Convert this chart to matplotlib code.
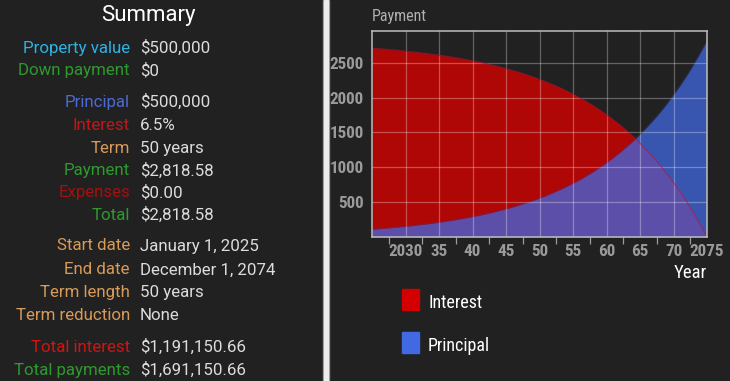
import matplotlib
matplotlib.use("Agg")
import matplotlib.pyplot as plt
from matplotlib.patches import Rectangle
from matplotlib import font_manager

# === 데이터 ===
summary_labels = ["Property value", "Down payment", "Principal", "Interest", "Term",
                  "Payment", "Expenses", "Total", "Start date", "End date",
                  "Term length", "Term reduction", "Total interest", "Total payments"]
summary_values = ["$500,000", "$0", "$500,000", "6.5%", "50 years", "$2,818.58", "$0.00",
                  "$2,818.58", "January 1, 2025", "December 1, 2074", "50 years", "None",
                  "$1,191,150.66", "$1,691,150.66"]
summary_colors = ["#2cb2e6", "#2e9a2e", "#4d6ad2", "#c41616", "#d89a58", "#2e9a2e", "#a41010",
                  "#2e9a2e", "#d89a58", "#d89a58", "#d89a58", "#d89a58", "#d01414", "#2e9a2e"]
summary_rows_y = [48, 71, 102, 125, 148, 171, 193, 215, 246, 270, 293, 315, 347, 370]

years = [2025, 2026, 2027, 2028, 2029, 2030, 2031, 2032, 2033, 2034,
         2035, 2036, 2037, 2038, 2039, 2040, 2041, 2042, 2043, 2044,
         2045, 2046, 2047, 2048, 2049, 2050, 2051, 2052, 2053, 2054,
         2055, 2056, 2057, 2058, 2059, 2060, 2061, 2062, 2063, 2064,
         2065, 2066, 2067, 2068, 2069, 2070, 2071, 2072, 2073, 2074, 2074.92]
interest = [2708, 2701, 2693, 2685, 2676, 2666, 2656, 2645, 2633, 2621,
            2608, 2594, 2579, 2563, 2545, 2527, 2508, 2487, 2464, 2441,
            2415, 2388, 2360, 2329, 2296, 2261, 2224, 2184, 2142, 2096,
            2048, 1996, 1941, 1882, 1820, 1753, 1681, 1605, 1524, 1437,
            1345, 1246, 1141, 1028, 908, 780, 644, 498, 343, 177, 15]
principal = [110, 118, 126, 134, 143, 152, 163, 174, 185, 198,
             211, 225, 240, 256, 273, 292, 311, 332, 354, 378,
             403, 430, 459, 490, 522, 557, 595, 635, 677, 722,
             771, 822, 878, 936, 999, 1066, 1137, 1214, 1295, 1381,
             1474, 1573, 1678, 1790, 1910, 2038, 2175, 2320, 2476, 2642, 2803]

x_major = [2030, 2035, 2040, 2045, 2050, 2055, 2060, 2065, 2070, 2075]
x_labels = ["2030", "35", "40", "45", "50", "55", "60", "65", "70", "2075"]
x_minor = [2027.5, 2032.5, 2037.5, 2042.5, 2047.5, 2052.5, 2057.5, 2062.5, 2067.5, 2072.5]
y_ticks = [500, 1000, 1500, 2000, 2500]

W, H = 730, 381
BG = "#212121"


# 좁은 글꼴 찾기 (Roboto Condensed 우선)
def find_narrow(want_bold):
    cands = []
    for f in font_manager.fontManager.ttflist:
        name = f.fname.lower().split("/")[-1]
        if "condensed" not in name and "narrow" not in name:
            continue
        if any(k in name for k in ["italic", "oblique", "light", "semi", "extra",
                                   "medium", "black", "thin"]):
            continue
        if ("bold" in name) != want_bold:
            continue
        cands.append(f.fname)
    cands.sort(key=lambda s: (0 if "roboto" in s.lower() else 1, s))
    return cands[0] if cands else None


narrow_fp = find_narrow(False)
narrow_bold_fp = find_narrow(True) or narrow_fp


def narrow(size, bold=False):
    fp = narrow_bold_fp if bold else narrow_fp
    if fp:
        return font_manager.FontProperties(fname=fp, size=size)
    return font_manager.FontProperties(family="Roboto", size=size * 0.86)


fig = plt.figure(figsize=(W / 100, H / 100), dpi=100, facecolor=BG)

# === 왼쪽 요약 패널 ===
fig.text(148 / W, 1 - 15 / H, "Summary", ha="center", va="center",
         color="white", fontsize=16, family="Roboto")
for lab, val, col, yy in zip(summary_labels, summary_values, summary_colors, summary_rows_y):
    fig.text(130 / W, 1 - yy / H, lab, ha="right", va="center",
             color=col, fontsize=12.2, family="Roboto")
    fig.text(140 / W, 1 - yy / H, val, ha="left", va="center",
             color="#dcdcdc", fontsize=12.2, family="Roboto")

# 구분선
fig.patches.append(Rectangle((322.5 / W, 0), 6.5 / W, 1, transform=fig.transFigure,
                             color="#8a8a8a", zorder=0))
fig.patches.append(Rectangle((324 / W, 0), 3.5 / W, 1, transform=fig.transFigure,
                             color="#ececec", zorder=1))

# === 차트 ===
ax = fig.add_axes([372 / W, (H - 237) / H, (707 - 372) / W, (237 - 31) / H])
ax.set_facecolor(BG)
ax.fill_between(years, 0, interest, color="#d00000", alpha=0.82, linewidth=0, zorder=1)
ax.plot(years, interest, color="#c01030", linewidth=0.8, zorder=3, alpha=0.6)
ax.fill_between(years, 0, principal, color="#4169e1", alpha=0.75, linewidth=0, zorder=2)
ax.plot(years, principal, color="#3a3aa0", linewidth=0.6, zorder=2, alpha=0.5)

ax.set_xlim(2025, 2075)
ax.set_ylim(0, 2955)

ax.set_xticks(x_major)
ax.set_xticklabels(x_labels)
ax.set_xticks(x_minor, minor=True)
ax.set_yticks(y_ticks)
ax.set_yticklabels([str(v) for v in y_ticks])
ax.tick_params(axis="x", which="major", length=0, pad=5, labelcolor="#9a9a9a")
ax.tick_params(axis="x", which="minor", length=5, width=0.9, color="#9c9c9c", direction="out")
ax.tick_params(axis="y", length=0, pad=6, labelcolor="#9a9a9a")
for lab in ax.get_xticklabels() + ax.get_yticklabels():
    lab.set_fontproperties(narrow(12.3, bold=True))

ax.grid(True, which="major", color="white", alpha=0.3, linewidth=0.9, zorder=4)
ax.set_axisbelow(False)
for sp in ax.spines.values():
    sp.set_color("#bdbdbd")
    sp.set_linewidth(1.1)
    sp.set_zorder(5)

fig.text(372 / W, 1 - 17 / H, "Payment", ha="left", va="center",
         color="#b0b0b0", fontproperties=narrow(11.5))
fig.text(707 / W, 1 - 273 / H, "Year", ha="right", va="center",
         color="white", fontproperties=narrow(13.5))

# 범례
legend_items = [("Interest", "#d40000", 299), ("Principal", "#4169e1", 342)]
for name, col, yy in legend_items:
    fig.patches.append(Rectangle((401.5 / W, 1 - (yy + 10.5) / H), 17.5 / W, 21 / H,
                                 transform=fig.transFigure, color=col))
    fig.text(428 / W, 1 - (yy + 4) / H, name, ha="left", va="center",
             color="white", fontproperties=narrow(13))

fig.savefig("out.png", dpi=100, facecolor=BG)
